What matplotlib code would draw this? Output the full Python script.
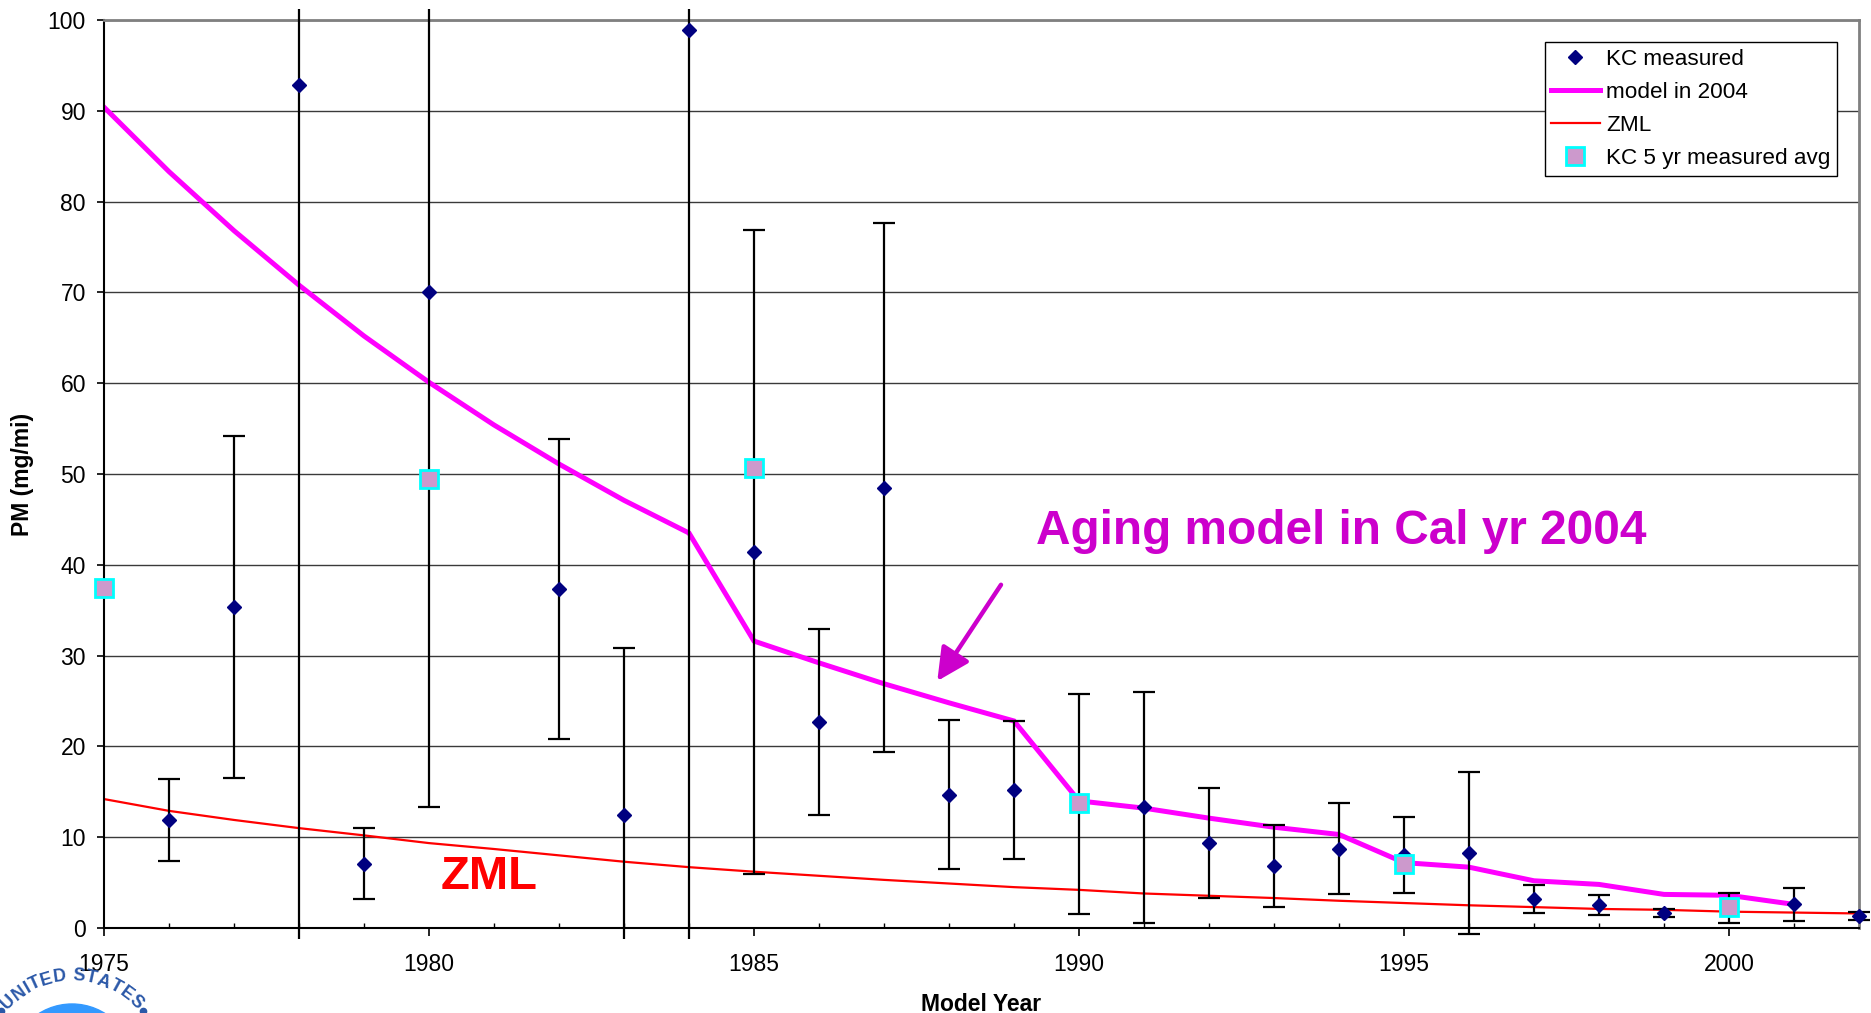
import numpy as np
import matplotlib
matplotlib.use("Agg")
import matplotlib.pyplot as plt
from matplotlib.transforms import Bbox, TransformedBbox
from matplotlib.patches import Circle

plt.rcParams['font.family'] = ['Liberation Sans', 'DejaVu Sans']

# ---------------- data ----------------
meas_years = [1976, 1977, 1978, 1979, 1980, 1982, 1983, 1984, 1985, 1986, 1987,
              1988, 1989, 1990, 1991, 1992, 1993, 1994, 1995, 1996, 1997, 1998,
              1999, 2000, 2001, 2002]
meas_vals = [11.9, 35.35, 92.8, 7.1, 70.0, 37.35, 12.5, 98.9, 41.4, 22.7, 48.5,
             14.7, 15.2, 13.65, 13.3, 9.35, 6.8, 8.75, 8.05, 8.25, 3.2, 2.5,
             1.65, 2.2, 2.6, 1.35]
meas_err = [4.55, 18.85, 100.0, 3.9, 56.7, 16.55, 18.3, 105.0, 35.5, 10.25, 29.1,
            8.25, 7.6, 12.15, 12.7, 6.05, 4.5, 5.05, 4.15, 8.95, 1.5, 1.1,
            0.45, 1.7, 1.8, 0.45]

model_years = list(range(1975, 2002))
model_vals = [90.4, 83.3, 76.8, 70.8, 65.2, 60.1, 55.4, 51.1, 47.1, 43.5,
              31.6, 29.2, 26.9, 24.8, 22.8, 14.0, 13.2, 12.1, 11.1, 10.3,
              7.2, 6.7, 5.2, 4.8, 3.7, 3.6, 2.6]

zml_years = list(range(1975, 2003))
zml_vals = [14.2, 12.9, 11.9, 11.0, 10.2, 9.35, 8.7, 8.0, 7.3, 6.7,
            6.2, 5.75, 5.3, 4.9, 4.5, 4.2, 3.8, 3.55, 3.3, 3.0,
            2.75, 2.5, 2.3, 2.1, 2.0, 1.8, 1.7, 1.6]

avg_years = [1975, 1980, 1985, 1990, 1995, 2000]
avg_vals = [37.4, 49.4, 50.7, 13.75, 7.1, 2.3]

x_ticks = [1975, 1980, 1985, 1990, 1995, 2000]
y_ticks = [0, 10, 20, 30, 40, 50, 60, 70, 80, 90, 100]

# ---------------- figure ----------------
W, H = 1871, 1013
fig = plt.figure(figsize=(W / 100, H / 100), dpi=100)
ax = fig.add_axes([104 / W, 1 - 928 / H, 1755 / W, 908 / H])

ax.set_xlim(1975, 2002)
ax.set_ylim(0, 100)

# grid
for yv in y_ticks[1:]:
    ax.axhline(yv, color='#3a3a3a', lw=1.0, zorder=0.5)

# lines
l_model, = ax.plot(model_years, model_vals, color='#FF00FF', lw=3.6,
                   solid_joinstyle='miter', zorder=2, label='model in 2004')
l_zml, = ax.plot(zml_years, zml_vals, color='#FF0000', lw=1.6, zorder=2.1,
                 label='ZML')

# error bars (clipped slightly beyond plot area like the original)
eb = ax.errorbar(meas_years, meas_vals, yerr=meas_err, fmt='none',
                 ecolor='black', elinewidth=1.6, capsize=8, capthick=1.6,
                 zorder=3)
clipbox = TransformedBbox(Bbox([[1974.5, -1.2], [2002.5, 101.2]]), ax.transData)
for art in list(eb.lines[1]) + list(eb.lines[2]):
    art.set_clip_box(clipbox)

l_meas, = ax.plot(meas_years, meas_vals, linestyle='none', marker='D',
                  markersize=6.8, color='#000080', mec='#000080', zorder=4,
                  clip_on=False, label='KC measured')
l_avg, = ax.plot(avg_years, avg_vals, linestyle='none', marker='s',
                 markersize=13, markerfacecolor='#CC99CC',
                 markeredgecolor='#00FFFF', markeredgewidth=2, zorder=5,
                 clip_on=False, label='KC 5 yr measured avg')

# axes styling
ax.set_xticks(x_ticks)
ax.set_xticklabels([str(v) for v in x_ticks])
ax.set_xticks(list(range(1975, 2003)), minor=True)
ax.set_yticks(y_ticks)
ax.set_yticklabels([str(v) for v in y_ticks])
ax.tick_params(axis='x', which='major', direction='out', length=6, width=1.2,
               pad=12, labelsize=16.5, colors='black')
ax.tick_params(axis='x', which='minor', direction='in', length=3.8, width=1.0)
ax.tick_params(axis='y', which='major', direction='out', length=5, width=1.2,
               pad=8, labelsize=16.5)
for side in ('left', 'bottom'):
    ax.spines[side].set_color('black')
    ax.spines[side].set_linewidth(1.5)
for side in ('top', 'right'):
    ax.spines[side].set_color('#808080')
    ax.spines[side].set_linewidth(2)

ax.set_xlabel('Model Year', fontsize=16.5, fontweight='bold', labelpad=12)
ax.set_ylabel('PM (mg/mi)', fontsize=16.5, fontweight='bold', labelpad=10)

# legend
leg = ax.legend(handles=[l_meas, l_model, l_zml, l_avg],
                loc='upper right', bbox_to_anchor=(0.9875, 0.9758),
                borderaxespad=0, fontsize=16.2, frameon=True, fancybox=False,
                edgecolor='black', framealpha=1, handlelength=2.15,
                handletextpad=0.28, labelspacing=0.54, borderpad=0.3,
                numpoints=1)
leg.get_frame().set_linewidth(1.0)
leg.set_zorder(10)

# annotations
ax.text(1989.34, 42.3, 'Aging model in Cal yr 2004', color='#CC00CC',
        fontsize=34.4, fontweight='bold', ha='left', va='baseline', zorder=6)
ax.text(1980.18, 4.3, 'ZML', color='#FF0000', fontsize=34, fontweight='bold',
        ha='left', va='baseline', zorder=6)
ax.annotate('', xy=(1987.82, 27.2), xytext=(1988.80, 37.8),
            arrowprops=dict(arrowstyle='-|>,head_length=0.9,head_width=0.45',
                            lw=3.2, color='#CC00CC', mutation_scale=22,
                            shrinkA=0, shrinkB=0), zorder=6)

# partial seal in the bottom-left corner
lx = fig.add_axes([0, 0, 1, 1])
lx.set_xlim(0, W)
lx.set_ylim(H, 0)
lx.axis('off')
cx, cy = 72, 1066
lx.add_patch(Circle((cx, cy), 62, color='#3399FF', zorder=1))
seal_text = 'UNITED STATES'
char_w = {'U': .722, 'N': .722, 'I': .278, 'T': .611, 'E': .667, 'D': .722,
          ' ': .278, 'S': .667, 'A': .722}
widths = np.array([char_w[c] for c in seal_text])
centers = np.cumsum(widths) - widths / 2
frac = (centers - centers[0]) / (centers[-1] - centers[0])
angles = 135 - frac * 90
for ch, a in zip(seal_text, angles):
    r = 90
    px = cx + r * np.cos(np.radians(a))
    py = cy - r * np.sin(np.radians(a))
    lx.text(px, py, ch, rotation=a - 90, ha='center', va='center',
            fontsize=13, fontweight='bold', color='#2B58A8')
for a in (142.0, 38.0):
    px = cx + 90 * np.cos(np.radians(a))
    py = cy - 90 * np.sin(np.radians(a))
    lx.plot([px], [py], marker='o', markersize=4.5, color='#2B58A8')

fig.savefig('out.png', dpi=100)
